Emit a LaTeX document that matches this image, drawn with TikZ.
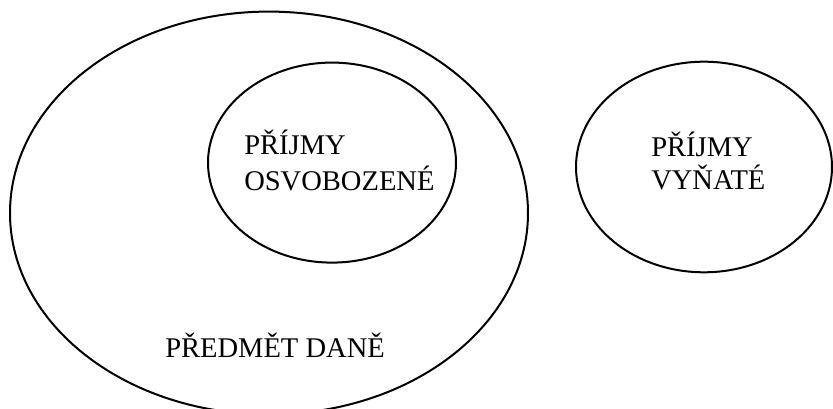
\documentclass[tikz,border=0pt]{standalone}
\usepackage{fontspec}
\setmainfont{Liberation Serif}
\begin{document}
\begin{tikzpicture}[x=0.75pt,y=-0.75pt,
  lbl/.style={anchor=base west, inner sep=0pt, font=\fontsize{21.4}{26}\selectfont},
  ring/.style={line width=1.5pt}]
\useasboundingbox (0,0) rectangle (833,409);
\begin{scope}
\clip (0,0) rectangle (833,409);
\draw[ring] (269,213) ellipse [x radius=259, y radius=201.4];
\draw[ring] (332,162.6) ellipse [x radius=124, y radius=100];
\draw[ring] (704,167) ellipse [x radius=128, y radius=105.3];
\end{scope}
\node[lbl] (osvA) at (244,155) {PŘÍJMY};
\node[lbl] (osvB) at (244,190.5) {OSVOBOZENÉ};
\node[lbl] (vynA) at (651,157) {PŘÍJMY};
\node[lbl] (vynB) at (651,190) {VYŇATÉ};
\node[lbl] (pred) at (165,357.3) {PŘEDMĚT DANĚ};
\end{tikzpicture}
\end{document}
